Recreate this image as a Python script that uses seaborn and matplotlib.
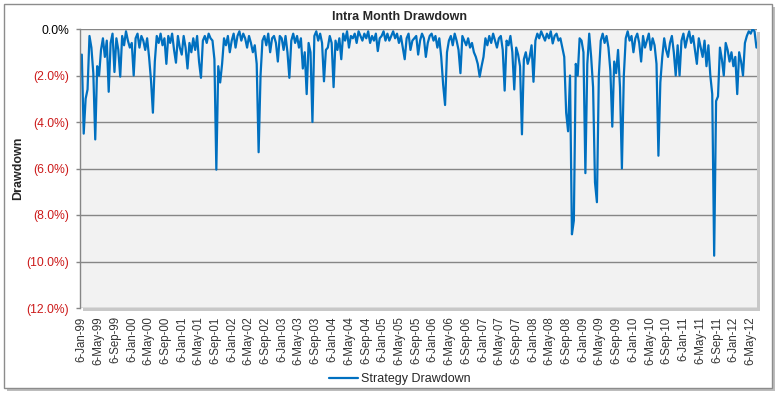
import matplotlib
matplotlib.use("Agg")
import matplotlib.pyplot as plt
from matplotlib.patches import Rectangle
import numpy as np
import pandas as pd
import seaborn as sns

# drawdown (%), one value every two weeks from 6-Jan-99
dd_1999 = [1.1, 4.5, 3.0, 2.6, 0.3, 0.8, 1.9, 4.75, 1.6, 2.0, 0.9, 0.4, 1.2,
           0.5, 2.7, 0.6, 0.2, 1.85, 0.4, 0.9, 2.05, 0.3, 0.7, 0.1, 0.5, 0.8]
dd_2000 = [0.6, 2.0, 0.4, 0.2, 0.8, 0.3, 0.5, 0.9, 0.4, 1.2, 2.2, 3.6, 1.4,
           0.3, 0.6, 0.2, 0.7, 0.4, 1.5, 0.3, 0.6, 0.2, 0.9, 1.45, 0.3, 0.8]
dd_2001 = [1.1, 0.3, 0.8, 1.7, 0.6, 1.0, 0.4, 0.9, 0.3, 1.4, 2.1, 0.5, 0.3,
           0.6, 0.2, 0.4, 0.5, 1.3, 6.05, 1.6, 2.3, 1.5, 0.4, 0.7, 0.3, 1.0]
dd_2002 = [0.5, 0.2, 0.8, 0.3, 0.1, 0.5, 0.2, 0.4, 0.8, 0.3, 0.6, 1.0, 0.7,
           1.5, 5.3, 2.0, 0.5, 0.3, 0.7, 0.2, 1.0, 0.4, 0.3, 0.6, 1.4, 0.3]
dd_2003 = [0.4, 0.9, 0.3, 1.0, 2.1, 0.5, 0.2, 0.6, 0.3, 0.8, 0.4, 1.7, 1.0,
           2.8, 0.6, 1.0, 4.0, 0.3, 0.1, 0.5, 0.2, 0.6, 2.25, 0.9, 0.8, 0.3]
dd_2004 = [0.6, 2.5, 0.5, 0.9, 0.4, 1.3, 0.2, 0.5, 0.1, 0.8, 0.3, 0.4, 0.2,
           0.6, 0.1, 0.3, 0.5, 0.2, 0.4, 0.1, 0.6, 0.3, 0.5, 0.2, 0.95, 0.4]
dd_2005 = [0.3, 0.1, 0.5, 0.2, 0.5, 0.3, 0.1, 0.4, 0.2, 0.6, 0.3, 0.8, 1.3,
           0.4, 0.2, 0.9, 0.5, 0.4, 0.3, 1.1, 0.5, 0.2, 0.4, 1.2, 0.6, 0.3]
dd_2006 = [0.2, 0.5, 0.3, 0.8, 0.4, 1.2, 2.4, 3.27, 1.0, 0.5, 0.3, 0.7, 0.2,
           0.5, 0.9, 1.9, 0.3, 0.5, 0.7, 0.4, 0.8, 0.6, 1.0, 1.2, 1.5, 2.05]
dd_2007 = [1.6, 1.2, 0.4, 0.7, 0.3, 0.6, 0.2, 0.5, 0.8, 0.4, 0.3, 0.9, 2.65,
           0.5, 0.7, 0.3, 1.0, 2.6, 0.8, 1.1, 1.6, 4.53, 1.3, 1.0, 1.5, 1.2]
dd_2008 = [0.7, 2.27, 0.5, 0.2, 0.4, 0.1, 0.3, 0.5, 0.2, 0.4, 0.1, 0.62, 0.3,
           0.2, 0.5, 0.4, 0.8, 1.2, 3.6, 4.4, 2.0, 8.83, 8.24, 1.5, 2.0, 0.4]
dd_2009 = [0.5, 1.0, 6.2, 1.5, 0.2, 1.2, 2.5, 6.6, 7.45, 2.0, 0.5, 0.2, 0.6,
           0.3, 0.8, 1.8, 4.2, 1.4, 1.9, 0.9, 2.5, 6.0, 2.0, 0.4, 0.1, 0.5]
dd_2010 = [0.3, 1.0, 0.4, 0.2, 0.6, 1.4, 0.3, 0.8, 0.5, 0.2, 0.9, 0.4, 0.7,
           1.5, 5.45, 2.3, 1.2, 0.4, 0.9, 1.2, 0.6, 0.3, 1.0, 2.0, 0.7, 2.0]
dd_2011 = [0.5, 0.2, 0.8, 0.4, 0.1, 0.6, 0.3, 0.9, 1.5, 0.4, 0.8, 1.2, 0.5,
           1.6, 0.7, 2.0, 2.8, 9.75, 3.1, 2.9, 0.8, 1.3, 2.0, 0.6, 0.9, 1.4]
dd_2012 = [1.0, 1.6, 1.2, 2.8, 1.0, 1.4, 2.0, 0.6, 0.3, 0.1, 0.2, 0.0, 0.1, 0.8]

drawdown = (dd_1999 + dd_2000 + dd_2001 + dd_2002 + dd_2003 + dd_2004 + dd_2005
            + dd_2006 + dd_2007 + dd_2008 + dd_2009 + dd_2010 + dd_2011 + dd_2012)
dates = pd.date_range("1999-01-06", periods=len(drawdown), freq="14D")

y_ticks = [0, -2, -4, -6, -8, -10, -12]
tick_dates = pd.date_range("1999-01-01", "2012-05-01", freq="4MS") + pd.Timedelta(days=5)
tick_labels = [f"{d.day}-{d:%b-%y}" for d in tick_dates]

df = pd.DataFrame({"date": dates, "dd": -np.array(drawdown)})

sns.set_theme(style="white")
plt.rcParams["font.family"] = ["Liberation Sans", "DejaVu Sans"]

W, H = 782, 398
fig = plt.figure(figsize=(W / 100, H / 100), dpi=100)

# chart border + shadow
fig.patches.append(Rectangle((7 / W, 7 / H), 768 / W, 384 / H, transform=fig.transFigure,
                             facecolor="#bdbdbd", edgecolor="none", zorder=-3))
fig.patches.append(Rectangle((4 / W, 10 / H), 768 / W, 384 / H, transform=fig.transFigure,
                             facecolor="white", edgecolor="#8c8c8c", lw=1, zorder=-2))

x0, x1, ytop, ybot = 80, 757, 29, 308
ax = fig.add_axes([x0 / W, (H - ybot) / H, (x1 - x0) / W, (ybot - ytop) / H])
# plot area shadow
fig.patches.append(Rectangle(((x0 + 3) / W, (H - ybot - 3) / H), (x1 - x0) / W, (ybot - ytop) / H,
                             transform=fig.transFigure, facecolor="#c8c8c8",
                             edgecolor="none", zorder=-1))
ax.set_facecolor("#f2f2f2")

sns.lineplot(data=df, x="date", y="dd", ax=ax, color="#0070c0", lw=1.6,
             label="Strategy Drawdown")

ax.set_ylim(-12, 0)
ax.set_xlim(pd.Timestamp("1998-12-24"), pd.Timestamp("2012-06-24"))
ax.set_yticks(y_ticks)
ax.set_yticklabels(["0.0%" if v == 0 else f"({abs(v):.1f}%)" for v in y_ticks])
for t, v in zip(ax.get_yticklabels(), y_ticks):
    t.set_color("black" if v == 0 else "#cc1a1a")
ax.set_xticks(tick_dates)
ax.set_xticklabels(tick_labels, rotation=90, color="#333333")
ax.tick_params(axis="y", labelsize=8.7, length=3, width=1, color="#868686", pad=5, left=True)
ax.tick_params(axis="x", labelsize=8.3, length=0, pad=6)

ax.grid(axis="y", color="#868686", lw=1)
ax.grid(axis="x", visible=False)
for s in ["top", "right", "bottom"]:
    ax.spines[s].set_visible(False)
ax.spines["left"].set_color("#868686")
ax.spines["left"].set_linewidth(1)
ax.set_xlabel("")
ax.set_ylabel("")

fig.text(18 / W, 1 - 168 / H, "Drawdown", rotation=90, ha="center", va="center",
         fontsize=9, fontweight="bold")
fig.text(400 / W, 1 - 17 / H, "Intra Month Drawdown", ha="center", va="center",
         fontsize=9, fontweight="bold")

ax.legend(loc="center", bbox_to_anchor=(400 / W, 1 - 379 / H), bbox_transform=fig.transFigure,
          frameon=False, fontsize=9, handlelength=2.3, handletextpad=0.25,
          borderaxespad=0, borderpad=0)

fig.savefig("out.png", dpi=100)
